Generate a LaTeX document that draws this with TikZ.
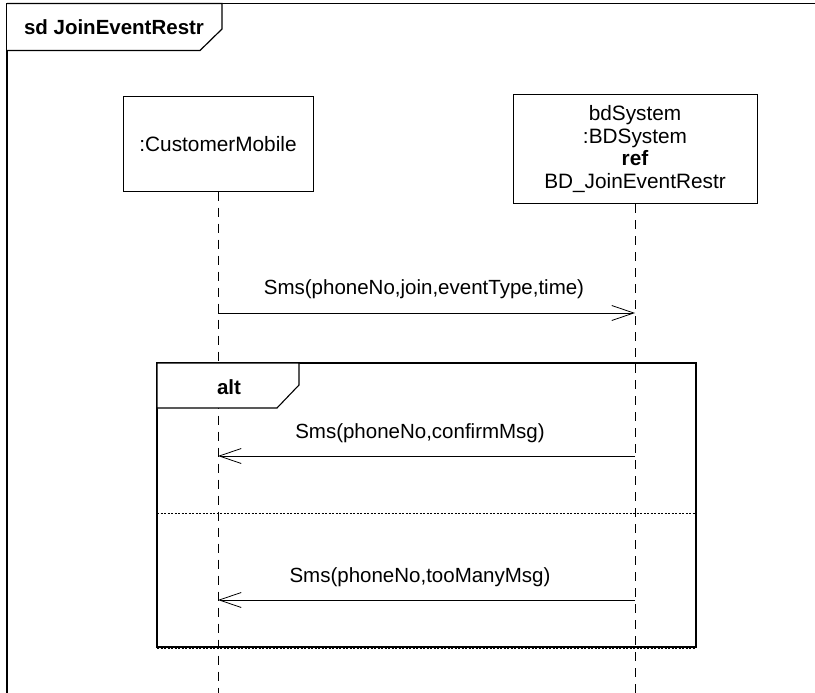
\documentclass[tikz,border=0pt]{standalone}
\usepackage{fontspec}
\setmainfont{Liberation Sans}
\usetikzlibrary{arrows.meta}

\tikzset{
  frameline/.style={line width=1.2pt, black},
  lifebox/.style={draw, line width=1pt, fill=white, align=center, inner sep=0pt},
  lifeline/.style={line width=0.9pt, dash pattern=on 9pt off 7pt},
  msg/.style={line width=0.8pt, -{Straight Barb[length=22pt, width=15pt, line width=0.8pt]}},
  msglabel/.style={font=\fontsize{20.5}{24}\selectfont, anchor=base},
  framelabel/.style={font=\bfseries\fontsize{20.5}{24}\selectfont},
  separator/.style={line width=0.8pt, dash pattern=on 2pt off 1.5pt},
}

\begin{document}
\begin{tikzpicture}[x=1pt, y=-1pt]
  \useasboundingbox (0,0) rectangle (815,693);
  \clip (0,0) rectangle (815,693);
  \fill[white] (0,0) rectangle (815,693);

  % outer sequence diagram frame (open to the right and below)
  \draw[frameline] (7,720) -- (7,3.5) -- (830,3.5);
  \draw[frameline, fill=white] (7,3.5) -- (222,3.5) -- (222,29) -- (200,50.5) -- (7,50.5);
  \node[framelabel] (sdlabel) at (114,27) {sd JoinEventRestr};

  % lifeline heads
  \node[lifebox, minimum width=190pt, minimum height=94pt,
        font=\fontsize{20.8}{24}\selectfont] (cm) at (218,144) {:CustomerMobile};
  \node[lifebox, minimum width=244pt, minimum height=109pt,
        font=\fontsize{20.8}{22.8}\selectfont] (bd) at (635,149)
        {bdSystem\\:BDSystem\\\textbf{ref}\\BD\_JoinEventRestr};

  % lifeline ends below the visible area
  \coordinate (cmend) at (218,720);
  \coordinate (bdend) at (635,720);
  \draw[lifeline] (cm.south) -- (cmend);
  \draw[lifeline] (bd.south) -- (bdend);

  % message points on the lifelines
  \coordinate (cm1) at (218,313);
  \coordinate (bd1) at (635,313);
  \coordinate (cm2) at (218,456);
  \coordinate (bd2) at (635,456);
  \coordinate (cm3) at (218,600);
  \coordinate (bd3) at (635,600);

  % first message
  \draw[msg] (cm1) -- (bd1);
  \node[msglabel] (m1) at (424,294) {Sms(phoneNo,join,eventType,time)};

  % alt combined fragment
  \coordinate (altTL) at (157,363);
  \coordinate (altBR) at (696,647);
  \draw[line width=1.1pt] (altTL) rectangle (altBR);
  \draw[separator] (157,648.7) -- (696,648.7);
  \draw[line width=1.1pt, fill=white] (157,363) -- (299,363) -- (299,385) -- (277,408) -- (157,408) -- cycle;
  \node[framelabel] (altlabel) at (229,387) {alt};
  \draw[separator] (157,513) -- (696,513);

  % alternative replies
  \draw[msg] (bd2) -- (cm2);
  \node[msglabel] (m2) at (420,438) {Sms(phoneNo,confirmMsg)};
  \draw[msg] (bd3) -- (cm3);
  \node[msglabel] (m3) at (420,582) {Sms(phoneNo,tooManyMsg)};
\end{tikzpicture}
\end{document}
